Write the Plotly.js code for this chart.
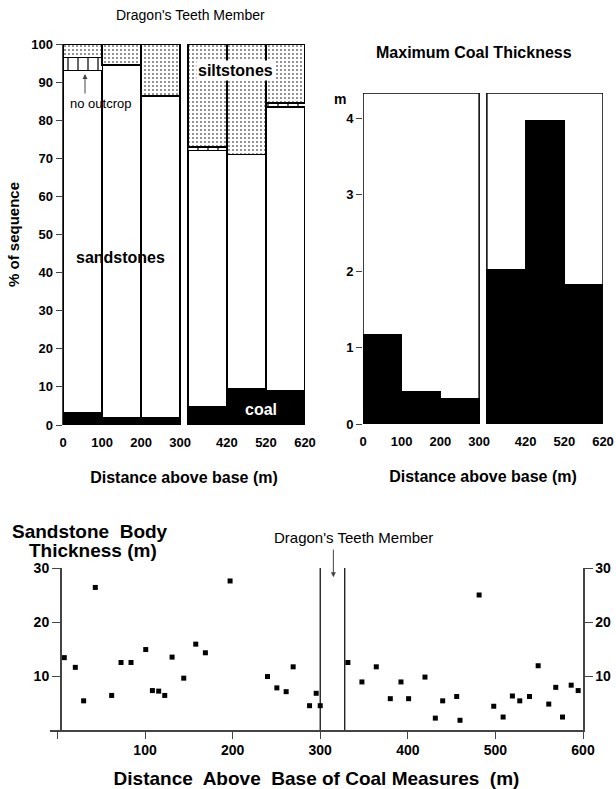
<!DOCTYPE html>
<html><head><meta charset="utf-8">
<script src="https://cdn.plot.ly/plotly-3.0.1.min.js"></script>
<style>html,body{margin:0;padding:0;background:#fff}#chart{width:616px;height:789px}</style>
</head><body><div id="chart"></div>
<script>
// ---- data ----
const intervalStart = [0, 100, 200, 320, 420, 520];
const intervalEnd = [100, 200, 300, 420, 520, 620];
const intervalTickVals = [0, 100, 200, 300, 420, 520, 620];
const intervalTickText = ['0', '100', '200', '300', '420', '520', '620'];
const coalPct = [3.2, 1.8, 1.8, 4.8, 9.4, 8.9];
const sandstonePct = [89.8, 92.7, 84.6, 67.2, 61.6, 74.6];
const noOutcropPct = [3.5, 0, 0, 1, 0, 1];
const siltstonePct = [3.5, 5.5, 13.6, 27, 29, 15.5];
const maxCoalThickness = [1.17, 0.43, 0.33, 2.02, 3.97, 1.83];
const sandBodyDistance = [7.8,20.4,29.9,43.2,61.9,72.6,84,100.8,108.4,115.6,122.5,130.9,144.2,157.9,168.9,197.1,239.8,250.5,261.1,269.1,287.8,295.4,300,331.6,347.6,364,380,392.2,400.9,419.6,431.4,439.8,455.8,459.6,481.4,498.1,508.8,519.4,527.8,538.9,548.8,560.9,568.9,576.6,586.5,594.5];
const sandBodyThickness = [13.4,11.6,5.4,26.4,6.4,12.5,12.5,14.9,7.3,7.2,6.4,13.5,9.6,15.9,14.3,27.6,9.9,7.8,7.1,11.7,4.5,6.8,4.5,12.5,8.9,11.7,5.8,8.9,5.8,9.8,2.2,5.4,6.2,1.8,25.0,4.4,2.4,6.3,5.4,6.2,11.9,4.8,7.9,2.4,8.3,7.3];
const dragonsTeethBounds = [300, 328];
const bottomTickVals = [0, 100, 200, 300, 400, 500, 600];
const bottomTickText = ['', '100', '200', '300', '400', '500', '600'];
const bottomTitleLines = ['Sandstone\u00a0 Body', 'Thickness (m)'];

// ---- helpers ----
const W = 616, H = 789;
const px = v => v / W, py = v => 1 - v / H;
const FONT = 'Liberation Sans, Arial, Helvetica, sans-serif';
const bold = (s) => ({family: FONT, size: s, color: '#000', weight: 'bold'});
const reg = (s) => ({family: FONT, size: s, color: '#000'});
const mids = intervalStart.map((s, i) => (s + intervalEnd[i]) / 2);
const widths = intervalStart.map((s, i) => intervalEnd[i] - s);
const outline = {color: '#000', width: 1.5};

const traces = [
  {type: 'bar', x: mids, y: coalPct, width: widths, name: 'coal', xaxis: 'x', yaxis: 'y',
   marker: {color: '#000', line: outline}, hoverinfo: 'y'},
  {type: 'bar', x: mids, y: sandstonePct, width: widths, name: 'sandstones', xaxis: 'x', yaxis: 'y',
   marker: {color: '#fff', line: outline}, hoverinfo: 'y'},
  {type: 'bar', x: mids, y: noOutcropPct, width: widths, name: 'no outcrop', xaxis: 'x', yaxis: 'y',
   marker: {color: '#fff', line: {color: '#000', width: 1}, pattern: {shape: '|', size: 10, solidity: 0.12, fgcolor: '#000', bgcolor: '#fff'}}, hoverinfo: 'y'},
  {type: 'bar', x: mids, y: siltstonePct, width: widths, name: 'siltstones', xaxis: 'x', yaxis: 'y',
   marker: {color: '#fff', line: outline, pattern: {shape: '.', size: 4, solidity: 0.12, fgcolor: '#000', bgcolor: '#fff'}}, hoverinfo: 'y'},
  {type: 'bar', x: mids, y: maxCoalThickness, width: widths, name: 'max coal', xaxis: 'x2', yaxis: 'y2',
   marker: {color: '#000', line: {color: '#000', width: 1}}, hoverinfo: 'y'},
  {type: 'scatter', mode: 'markers', x: sandBodyDistance, y: sandBodyThickness, xaxis: 'x3', yaxis: 'y3',
   marker: {symbol: 'square', size: 5, color: '#000'}, name: 'sandstone body'},
  {type: 'scatter', mode: 'markers', x: [], y: [], xaxis: 'x3', yaxis: 'y4', showlegend: false, hoverinfo: 'skip'}
];

const g1 = [Math.min(...intervalStart.slice(0, 3)), Math.max(...intervalEnd.slice(0, 3))];
const g2 = [Math.min(...intervalStart.slice(3)), Math.max(...intervalEnd.slice(3))];
const y2Top = 4.33;

const ann = (x, y, text, font, extra) => Object.assign({xref: 'paper', yref: 'paper', x: px(x), y: py(y), text: text,
  showarrow: false, font: font, xanchor: 'center', yanchor: 'middle'}, extra || {});

const layout = {
  width: W, height: H, margin: {l: 0, r: 0, t: 0, b: 0},
  paper_bgcolor: '#fff', plot_bgcolor: 'rgba(0,0,0,0)',
  showlegend: false, barmode: 'stack', bargap: 0,
  font: reg(12),
  xaxis: {domain: [px(63), px(305)], range: [0, 620], tickvals: intervalTickVals, ticktext: intervalTickText,
          showgrid: false, zeroline: false, showline: false, ticks: '', tickfont: bold(13), ticklabelstandoff: 8,
          title: {text: 'Distance above base (m)', font: bold(16), standoff: 22}, anchor: 'y'},
  yaxis: {domain: [py(425), py(44)], range: [0, 100], tickvals: [0,10,20,30,40,50,60,70,80,90,100],
          showgrid: false, zeroline: false, showline: true, linewidth: 1.5, ticks: 'outside', ticklen: 6,
          tickfont: bold(13), title: {text: '% of sequence', font: bold(15), standoff: 8}, anchor: 'x'},
  xaxis2: {domain: [px(363), px(603)], range: [0, 620], tickvals: intervalTickVals, ticktext: intervalTickText,
          showgrid: false, zeroline: false, showline: false, ticks: '', tickfont: bold(13), ticklabelstandoff: 8,
          title: {text: 'Distance above base (m)', font: bold(16), standoff: 22}, anchor: 'y2'},
  yaxis2: {domain: [py(424), py(93)], range: [0, y2Top], tickvals: [0, 1, 2, 3, 4],
          showgrid: false, zeroline: false, showline: false, ticks: 'outside', ticklen: 6,
          tickfont: bold(13), anchor: 'x2'},
  xaxis3: {domain: [px(50), px(583)], range: [-8.5, 600], tickvals: bottomTickVals, ticktext: bottomTickText,
          showgrid: false, zeroline: false, showline: true, linewidth: 1.5, ticks: 'outside', ticklen: 7,
          tickfont: bold(14), title: {text: 'Distance\u00a0 Above\u00a0 Base of Coal Measures\u00a0 (m)', font: bold(19), standoff: 14},
          anchor: 'y3'},
  yaxis3: {domain: [py(730), py(568)], range: [0, 30], tickvals: [10, 20, 30],
          showgrid: false, zeroline: false, showline: true, linewidth: 1.5, ticks: 'outside', ticklen: 8,
          tickfont: bold(14), anchor: 'free', position: px(60)},
  yaxis4: {domain: [py(730), py(568)], range: [0, 30], tickvals: [10, 20, 30], overlaying: 'y3', side: 'right',
          showgrid: false, zeroline: false, showline: true, linewidth: 1.5, ticks: 'outside', ticklen: 8,
          tickfont: bold(14), anchor: 'x3'},
  shapes: [
    {type: 'rect', xref: 'x2', yref: 'y2', x0: g1[0], x1: g1[1], y0: 0, y1: y2Top, line: {color: '#000', width: 1.5}},
    {type: 'rect', xref: 'x2', yref: 'y2', x0: g2[0], x1: g2[1], y0: 0, y1: y2Top, line: {color: '#000', width: 1.5}},
    {type: 'line', xref: 'x3', yref: 'y3', x0: dragonsTeethBounds[0], x1: dragonsTeethBounds[0], y0: 0, y1: 30, line: {color: '#000', width: 1.2}},
    {type: 'line', xref: 'x3', yref: 'y3', x0: dragonsTeethBounds[1], x1: dragonsTeethBounds[1], y0: 0, y1: 30, line: {color: '#000', width: 1.2}}
  ],
  annotations: [
    ann(190, 15, "Dragon's Teeth Member", reg(14)),
    {xref: 'x', yref: 'y', x: (g1[1] + g2[0]) / 2, y: 100.5, text: '', showarrow: true, ax: 0, ay: -17, arrowhead: 2, arrowsize: 1, arrowwidth: 1},
    ann(235, 70, 'siltstones', bold(16), {bgcolor: '#fff'}),
    ann(100, 103, 'no outcrop', reg(13)),
    {xref: 'paper', yref: 'paper', x: px(85), y: py(74), text: '', showarrow: true, ax: 0, ay: 21, arrowhead: 2, arrowsize: 1, arrowwidth: 1},
    ann(120, 257, 'sandstones', bold(16)),
    ann(261, 409, 'coal', {family: FONT, size: 16, color: '#fff', weight: 'bold'}),
    ann(474, 52, 'Maximum Coal Thickness', bold(16)),
    ann(340, 99, 'm', bold(14)),
    ann(90, 531, bottomTitleLines[0], bold(19)),
    ann(93, 550, bottomTitleLines[1], bold(19)),
    ann(353, 537, "Dragon's Teeth Member", reg(15)),
    {xref: 'x3', yref: 'y3', x: (dragonsTeethBounds[0] + dragonsTeethBounds[1]) / 2 + 1, y: 28.3, text: '', showarrow: true, ax: 0, ay: -29, arrowhead: 2, arrowsize: 1, arrowwidth: 1}
  ]
};

Plotly.newPlot('chart', traces, layout, {displayModeBar: false, staticPlot: true});
</script>
</body></html>
